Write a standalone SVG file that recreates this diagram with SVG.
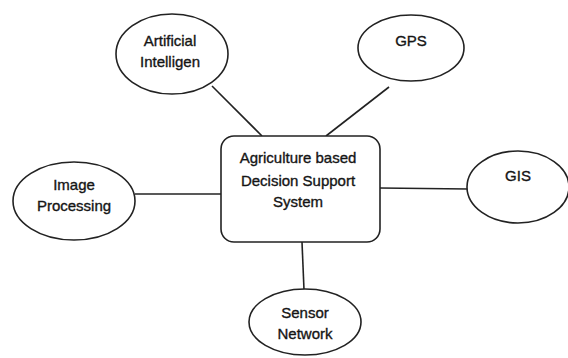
<svg xmlns="http://www.w3.org/2000/svg" width="568" height="358" viewBox="0 0 568 358">
  <style>
    .shape { fill: #ffffff; stroke: #222222; stroke-width: 1.6; }
    .link { stroke: #222222; stroke-width: 1.6; fill: none; }
    .label { font-family: "Liberation Sans", Arial, sans-serif; font-size: 15px; fill: #151515; stroke: #151515; stroke-width: 0.35; text-anchor: middle; }
  </style>
  <rect width="568" height="358" fill="#ffffff"/>

  <!-- connectors from the central system to each technology -->
  <g id="connectors">
    <line class="link" x1="212" y1="86" x2="262" y2="136"/>
    <line class="link" x1="389" y1="87" x2="326" y2="136"/>
    <line class="link" x1="135" y1="194" x2="221" y2="194"/>
    <line class="link" x1="380" y1="188" x2="468" y2="189"/>
    <line class="link" x1="302" y1="242" x2="304" y2="290"/>
  </g>

  <g id="decision-support-system">
    <rect class="shape" x="221" y="136" width="159" height="106" rx="13" ry="13"/>
    <text class="label" x="298" y="163">Agriculture based</text>
    <text class="label" x="298" y="186">Decision Support</text>
    <text class="label" x="298" y="207">System</text>
  </g>

  <g id="artificial-intelligence">
    <ellipse class="shape" cx="172" cy="54" rx="56" ry="40"/>
    <text class="label" x="170" y="46">Artificial</text>
    <text class="label" x="170" y="67">Intelligen</text>
  </g>

  <g id="gps">
    <ellipse class="shape" cx="411" cy="48" rx="53" ry="33"/>
    <text class="label" x="411" y="46">GPS</text>
  </g>

  <g id="image-processing">
    <ellipse class="shape" cx="74" cy="201" rx="61" ry="39"/>
    <text class="label" x="74" y="190">Image</text>
    <text class="label" x="74" y="211">Processing</text>
  </g>

  <g id="gis">
    <ellipse class="shape" cx="518" cy="187" rx="51" ry="36"/>
    <text class="label" x="518" y="181">GIS</text>
  </g>

  <g id="sensor-network">
    <ellipse class="shape" cx="305" cy="322" rx="56" ry="33"/>
    <text class="label" x="305" y="318">Sensor</text>
    <text class="label" x="305" y="339">Network</text>
  </g>
</svg>
